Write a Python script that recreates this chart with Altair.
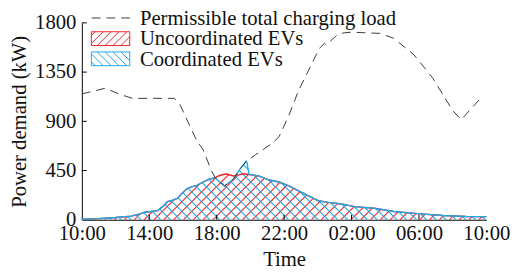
import altair as alt
import numpy as np
import pandas as pd

# ---------------- data ----------------
tick_labels = ["10:00", "14:00", "18:00", "22:00", "02:00", "06:00", "10:00"]
x_ticks = [0, 4, 8, 12, 16, 20, 24]
y_ticks = [0, 450, 900, 1350, 1800]
legend_labels = ["Permissible total charging load", "Uncoordinated EVs", "Coordinated EVs"]

# hours after 10:00
limit_hours = [0.0, 1.4, 2.2, 3.0, 5.5, 5.8, 6.8, 7.2, 7.7, 7.95, 8.47, 8.98, 9.36, 9.75,
               10.3, 11.3, 11.7, 12.3, 12.85, 14.1, 14.4, 14.5, 15.2, 15.6, 16.0, 16.75,
               17.7, 18.5, 19.7, 20.8, 22.0, 22.5, 23.0, 23.8]
limit_kw = [1150, 1203, 1150, 1110, 1110, 1060, 729, 639, 444, 375, 309, 369, 459, 534,
            594, 699, 759, 960, 1179, 1569, 1614, 1599, 1698, 1710, 1715, 1710,
            1704, 1659, 1509, 1299, 999, 915, 999, 1134]

unc_hours = [0, 1.0, 2.0, 2.94, 3.4, 3.72, 4.1, 4.5, 4.8, 5.08, 5.4, 5.66, 6.0, 6.25, 6.5,
             6.83, 7.2, 7.52, 7.9, 8.1, 8.39, 8.6, 8.98, 9.3, 9.56, 9.94, 10.53, 11.11,
             11.7, 12.28, 12.86, 13.45, 14.03, 14.62, 15.4, 16.18, 17.34, 18.5, 20.07,
             21.43, 22.8, 24.0]
unc_kw = [5, 10, 20, 33, 50, 69, 75, 84, 120, 165, 180, 195, 250, 285, 300,
          315, 345, 369, 384, 400, 414, 418, 400, 410, 420, 414, 399, 363,
          345, 309, 264, 219, 174, 159, 144, 120, 105, 75, 54,
          39, 30, 28]

coord_hours = [0, 1.0, 2.0, 2.94, 3.4, 3.72, 4.1, 4.5, 4.8, 5.08, 5.4, 5.66, 6.0, 6.25, 6.5,
               6.83, 7.2, 7.52, 7.9, 8.1, 8.47, 8.98, 9.36, 9.75, 9.8, 9.92, 10.53, 11.11,
               11.7, 12.28, 12.86, 13.45, 14.03, 14.62, 15.4, 16.18, 17.34, 18.5, 20.07,
               21.43, 22.8, 24.0]
coord_kw = [5, 10, 20, 33, 50, 69, 75, 84, 120, 165, 180, 195, 250, 285, 300,
            315, 345, 369, 384, 354, 309, 369, 459, 534, 520, 414, 399, 363,
            345, 309, 264, 219, 174, 159, 144, 120, 105, 75, 54,
            39, 30, 28]

RED = "#f0262b"
BLUE = "#1ea8e6"
DASH = "#3a3a3a"
FONT = "Liberation Serif, Times New Roman, DejaVu Serif, serif"
TXT = "#111111"
FS = 21

W, H = 411, 200
XMAX, YMAX = 24, 1800

# ---------------- hatch (style) derived from the series ----------------
PXH = W / XMAX          # px per hour
KPX = YMAX / H          # kW per px
SLOPE = PXH * KPX       # 45 degree in pixel space
SPACING = 10 / PXH
xs = np.arange(0, XMAX + 1e-9, 0.004)


def hatch(hours, vals, direction, name):
    cv = np.interp(xs, hours, vals)
    span = max(vals) / SLOPE
    if direction > 0:
        x0s = np.arange(-span, XMAX, SPACING)
    else:
        x0s = np.arange(0, XMAX + span, SPACING)
    rows = []
    for x0 in x0s:
        yl = direction * SLOPE * (xs - x0)
        inside = (yl >= 0) & (yl <= cv)
        idx = np.flatnonzero(inside)
        if idx.size < 2:
            continue
        breaks = np.flatnonzero(np.diff(idx) > 1)
        starts = np.r_[idx[0], idx[breaks + 1]]
        ends = np.r_[idx[breaks], idx[-1]]
        for a, b in zip(starts, ends):
            if b - a < 2:
                continue
            rows.append({"x": xs[a], "y": yl[a], "x2": xs[b], "y2": yl[b], "s": name})
    return pd.DataFrame(rows)


red_hatch = hatch(unc_hours, unc_kw, +1, "unc")
blue_hatch = hatch(coord_hours, coord_kw, -1, "coord")

xscale = alt.Scale(domain=[0, XMAX], nice=False, zero=False)
yscale = alt.Scale(domain=[0, YMAX], nice=False)

label_expr = "[" + ",".join(f"'{t}'" for t in tick_labels) + "][round(datum.value/4)]"

axis_style = dict(labelFont=FONT, labelFontSize=FS, labelColor=TXT, titleFont=FONT,
                  titleFontSize=FS, titleFontWeight="normal", titleColor=TXT,
                  domainColor="black", domainWidth=1, ticks=False, tickSize=0, grid=False)
x_axis = alt.Axis(values=x_ticks, labelExpr=label_expr, title="Time",
                  labelPadding=3, titlePadding=5, labelFlush=False, **axis_style)
y_axis = alt.Axis(values=y_ticks, format="d", title="Power demand (kW)",
                  labelPadding=6, titlePadding=5, **axis_style)

df_unc = pd.DataFrame({"h": unc_hours, "kw": unc_kw})
df_coord = pd.DataFrame({"h": coord_hours, "kw": coord_kw})
df_lim = pd.DataFrame({"h": limit_hours, "kw": limit_kw})

red_h = alt.Chart(red_hatch).mark_rule(color=RED, strokeWidth=1.1).encode(
    x=alt.X("x:Q", scale=xscale, axis=x_axis), y=alt.Y("y:Q", scale=yscale, axis=y_axis),
    x2="x2:Q", y2="y2:Q")
blue_h = alt.Chart(blue_hatch).mark_rule(color=BLUE, strokeWidth=1.1).encode(
    x=alt.X("x:Q", scale=xscale), y=alt.Y("y:Q", scale=yscale),
    x2="x2:Q", y2="y2:Q")

red_line = alt.Chart(df_unc).mark_line(color=RED, strokeWidth=1.4).encode(
    x=alt.X("h:Q", scale=xscale), y=alt.Y("kw:Q", scale=yscale))
blue_line = alt.Chart(df_coord).mark_line(color=BLUE, strokeWidth=1.4).encode(
    x=alt.X("h:Q", scale=xscale), y=alt.Y("kw:Q", scale=yscale))
lim_line = alt.Chart(df_lim).mark_line(color=DASH, strokeWidth=1, strokeDash=[9, 6]).encode(
    x=alt.X("h:Q", scale=xscale), y=alt.Y("kw:Q", scale=yscale))

# inward ticks
ytick_df = pd.DataFrame({"v": y_ticks[1:]})
xtick_df = pd.DataFrame({"v": x_ticks[1:-1]})
ytk = alt.Chart(ytick_df).mark_rule(color="black", strokeWidth=1).encode(
    y=alt.Y("v:Q", scale=yscale), x=alt.value(0), x2=alt.value(5))
xtk = alt.Chart(xtick_df).mark_rule(color="black", strokeWidth=1).encode(
    x=alt.X("v:Q", scale=xscale), y=alt.value(H), y2=alt.value(H - 5))


# legend (manual)
def box_path(direction, hh=7 / 19.5, step=8 / 19.5):
    parts = [f"M-1,{-hh:.3f}L1,{-hh:.3f}L1,{hh:.3f}L-1,{hh:.3f}Z"]
    c = -1 - 2 * hh + step / 2
    while c < 1:
        lo = max(0.0, -1 - c)
        hi = min(2 * hh, 1 - c)
        if hi - lo > 1e-3:
            if direction > 0:
                p1 = (c + lo, hh - lo); p2 = (c + hi, hh - hi)
            else:
                p1 = (c + lo, -hh + lo); p2 = (c + hi, -hh + hi)
            parts.append(f"M{p1[0]:.3f},{p1[1]:.3f}L{p2[0]:.3f},{p2[1]:.3f}")
        c += step
    return "".join(parts)


base = alt.Chart(pd.DataFrame({"a": [0]}))
leg_dash = base.mark_rule(color=DASH, strokeWidth=1, strokeDash=[9, 6]).encode(
    x=alt.value(10), x2=alt.value(49), y=alt.value(-5))
leg_red = base.mark_point(shape=box_path(+1), size=1521, filled=False, stroke=RED,
                          strokeWidth=1, opacity=1).encode(x=alt.value(29.2), y=alt.value(16))
leg_blue = base.mark_point(shape=box_path(-1), size=1521, filled=False, stroke=BLUE,
                           strokeWidth=1, opacity=1).encode(x=alt.value(29.2), y=alt.value(36.5))
leg_texts = [
    base.mark_text(text=legend_labels[i], font=FONT, fontSize=FS, align="left",
                   baseline="alphabetic", color=TXT).encode(
        x=alt.value(59), y=alt.value(yy))
    for i, yy in enumerate([2.2, 22.8, 43.6])
]

chart = alt.layer(red_h, blue_h, red_line, blue_line, lim_line, ytk, xtk,
                  leg_dash, leg_red, leg_blue, *leg_texts).properties(
    width=W, height=H,
    autosize=alt.AutoSizeParams(type="none"),
    padding={"left": 75, "top": 13, "right": 25, "bottom": 53},
).configure_view(stroke=None)

chart.save("out.html", embed_options={"renderer": "svg", "actions": False})
